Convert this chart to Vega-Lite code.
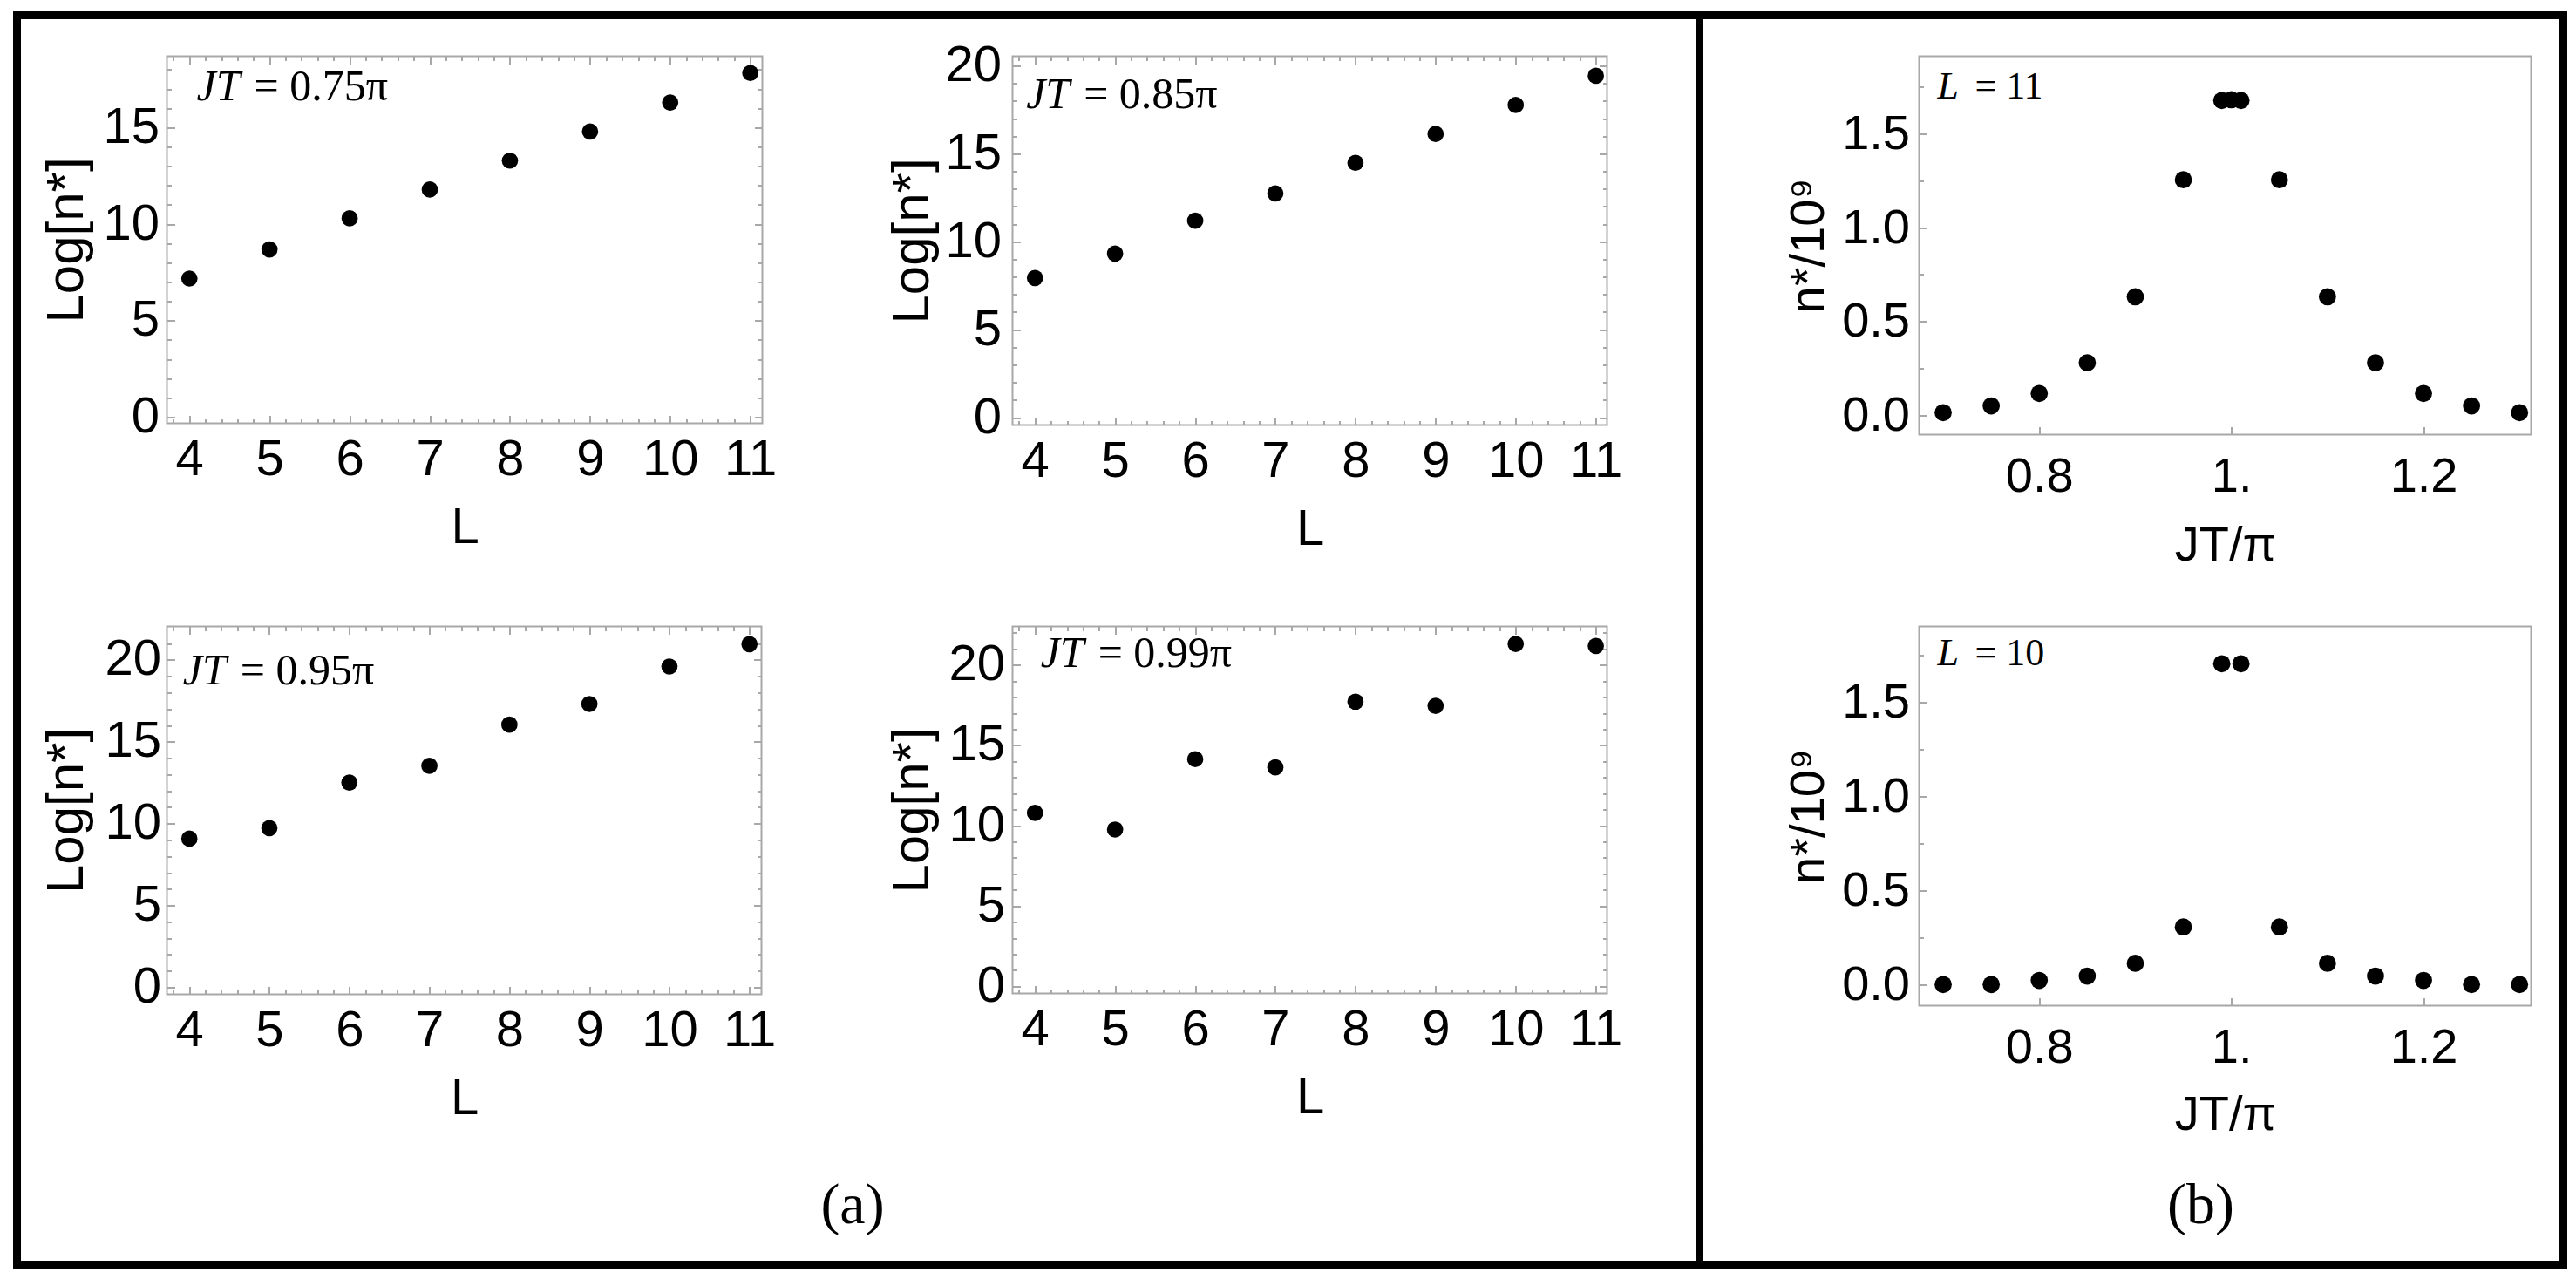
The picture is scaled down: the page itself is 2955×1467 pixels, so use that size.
{
"$schema":"https://vega.github.io/schema/vega-lite/v6.json",
"background":"white",
"padding":{"left":14.5,"top":12.5,"right":12,"bottom":12},
"columns":11,"align":"each","bounds":"flush","spacing":0,
"config":{
 "view":{"stroke":null},
 "concat":{"spacing":0},
 "axis":{"grid":false,"domain":false,"tickColor":"#a8a8a8","tickWidth":2,"labelFont":"Liberation Sans Narrow, Liberation Sans","labelColor":"black","titleFont":"Liberation Sans Narrow, Liberation Sans","titleColor":"black","titleFontWeight":"normal","labelFlush":false,"labelOverlap":false}
},
"concat":[
{"width":0.01,"height":0.01,"view":{"stroke":"black","strokeWidth":9},"data":{"values":[]},"mark":"point"},
{"width":171,"height":0.01,"view":{"stroke":"black","strokeWidth":9},"data":{"values":[]},"mark":"point"},
{"width":683,"height":0.01,"view":{"stroke":"black","strokeWidth":9},"data":{"values":[]},"mark":"point"},
{"width":287,"height":0.01,"view":{"stroke":"black","strokeWidth":9},"data":{"values":[]},"mark":"point"},
{"width":682,"height":0.01,"view":{"stroke":"black","strokeWidth":9},"data":{"values":[]},"mark":"point"},
{"width":106,"height":0.01,"view":{"stroke":"black","strokeWidth":9},"data":{"values":[]},"mark":"point"},
{"width":0.01,"height":0.01,"view":{"stroke":"black","strokeWidth":9},"data":{"values":[]},"mark":"point"},
{"width":251,"height":0.01,"view":{"stroke":"black","strokeWidth":9},"data":{"values":[]},"mark":"point"},
{"width":702,"height":0.01,"view":{"stroke":"black","strokeWidth":9},"data":{"values":[]},"mark":"point"},
{"width":37,"height":0.01,"view":{"stroke":"black","strokeWidth":9},"data":{"values":[]},"mark":"point"},
{"width":0.01,"height":0.01,"view":{"stroke":"black","strokeWidth":9},"data":{"values":[]},"mark":"point"},

{"width":0.01,"height":46,"view":{"stroke":"black","strokeWidth":9},"data":{"values":[]},"mark":"point"},
{"width":0.01,"height":0.01,"data":{"values":[]},"mark":"point"},
{"width":0.01,"height":0.01,"data":{"values":[]},"mark":"point"},
{"width":0.01,"height":0.01,"data":{"values":[]},"mark":"point"},
{"width":0.01,"height":0.01,"data":{"values":[]},"mark":"point"},
{"width":0.01,"height":0.01,"data":{"values":[]},"mark":"point"},
{"width":0.01,"height":46,"view":{"stroke":"black","strokeWidth":9},"data":{"values":[]},"mark":"point"},
{"width":0.01,"height":0.01,"data":{"values":[]},"mark":"point"},
{"width":0.01,"height":0.01,"data":{"values":[]},"mark":"point"},
{"width":0.01,"height":0.01,"data":{"values":[]},"mark":"point"},
{"width":0.01,"height":46,"view":{"stroke":"black","strokeWidth":9},"data":{"values":[]},"mark":"point"},

{"width":0.01,"height":434,"view":{"stroke":"black","strokeWidth":9},"data":{"values":[]},"mark":"point"},
{"width":0.01,"height":0.01,"data":{"values":[]},"mark":"point"},
{"width":683,"height":421,"view":{"stroke":"#a8a8a8","strokeWidth":2},
 "data":{"values":[{"L":4,"v":7.18},{"L":5,"v":8.69},{"L":6,"v":10.3},{"L":7,"v":11.79},{"L":8,"v":13.29},{"L":9,"v":14.8},{"L":10,"v":16.3},{"L":11,"v":17.83}]},
 "resolve":{"axis":{"x":"independent","y":"independent"}},
 "layer":[
  {"mark":{"type":"point","filled":true,"color":"black","opacity":1,"size":350},
   "encoding":{
    "x":{"field":"L","type":"quantitative","scale":{"domain":[3.72,11.15],"nice":false,"zero":false},"axis":{"orient":"bottom","values":[4,5,6,7,8,9,10,11],"format":"d","tickSize":-9,"labelPadding":22,"labelFontSize":58,"title":"L","titleFontSize":58,"titlePadding":31,"minExtent":60,"maxExtent":60}},
    "y":{"field":"v","type":"quantitative","scale":{"domain":[-0.32,18.7],"nice":false,"zero":false},"axis":{"orient":"left","values":[0,5,10,15],"format":"d","tickSize":-9,"labelPadding":18,"labelFontSize":58,"title":"Log[n*]","titleFontSize":60,"titlePadding":14,"minExtent":70,"maxExtent":70}}}},
  {"mark":{"type":"point","opacity":0},
   "encoding":{
    "x":{"field":"L","type":"quantitative","scale":{"domain":[3.72,11.15],"nice":false,"zero":false},"axis":{"orient":"bottom","values":[3.8,4.2,4.4,4.6,4.8,5.2,5.4,5.6,5.8,6.2,6.4,6.6,6.8,7.2,7.4,7.6,7.8,8.2,8.4,8.6,8.8,9.2,9.4,9.6,9.8,10.2,10.4,10.6,10.8],"tickSize":-5,"labels":false,"title":null}},
    "y":{"field":"v","type":"quantitative","scale":{"domain":[-0.32,18.7],"nice":false,"zero":false},"axis":{"orient":"left","values":[1,2,3,4,6,7,8,9,11,12,13,14,16,17,18],"tickSize":-5,"labels":false,"title":null}}}},
  {"mark":{"type":"point","opacity":0},
   "encoding":{
    "x":{"field":"L","type":"quantitative","scale":{"domain":[3.72,11.15],"nice":false,"zero":false},"axis":{"orient":"top","values":[4,5,6,7,8,9,10,11],"tickSize":-9,"labels":false,"title":null}},
    "y":{"field":"v","type":"quantitative","scale":{"domain":[-0.32,18.7],"nice":false,"zero":false},"axis":{"orient":"right","values":[0,5,10,15],"tickSize":-9,"labels":false,"title":null}}}},
  {"mark":{"type":"point","opacity":0},
   "encoding":{
    "x":{"field":"L","type":"quantitative","scale":{"domain":[3.72,11.15],"nice":false,"zero":false},"axis":{"orient":"top","values":[3.8,4.2,4.4,4.6,4.8,5.2,5.4,5.6,5.8,6.2,6.4,6.6,6.8,7.2,7.4,7.6,7.8,8.2,8.4,8.6,8.8,9.2,9.4,9.6,9.8,10.2,10.4,10.6,10.8],"tickSize":-5,"labels":false,"title":null}},
    "y":{"field":"v","type":"quantitative","scale":{"domain":[-0.32,18.7],"nice":false,"zero":false},"axis":{"orient":"right","values":[1,2,3,4,6,7,8,9,11,12,13,14,16,17,18],"tickSize":-5,"labels":false,"title":null}}}},
  {"data":{"values":[{"t":"JT"}]},"mark":{"type":"text","font":"Liberation Serif","fontStyle":"italic","fontSize":50,"align":"left","baseline":"alphabetic","color":"black"},
   "encoding":{"x":{"datum":4.09,"type":"quantitative","scale":{"domain":[3.72,11.15],"nice":false,"zero":false},"axis":null},"y":{"datum":16.4,"type":"quantitative","scale":{"domain":[-0.32,18.7],"nice":false,"zero":false},"axis":null},"text":{"field":"t"}}},
  {"data":{"values":[{"t":"= 0.75π"}]},"mark":{"type":"text","font":"Liberation Serif","fontSize":50,"align":"left","baseline":"alphabetic","color":"black","dx":66},
   "encoding":{"x":{"datum":4.09,"type":"quantitative","scale":{"domain":[3.72,11.15],"nice":false,"zero":false},"axis":null},"y":{"datum":16.4,"type":"quantitative","scale":{"domain":[-0.32,18.7],"nice":false,"zero":false},"axis":null},"text":{"field":"t"}}}
 ]},
{"width":0.01,"height":0.01,"data":{"values":[]},"mark":"point"},
{"width":682,"height":423,"view":{"stroke":"#a8a8a8","strokeWidth":2},
 "data":{"values":[{"L":4,"v":7.94},{"L":5,"v":9.33},{"L":6,"v":11.2},{"L":7,"v":12.75},{"L":8,"v":14.49},{"L":9,"v":16.13},{"L":10,"v":17.78},{"L":11,"v":19.44}]},
 "resolve":{"axis":{"x":"independent","y":"independent"}},
 "layer":[
  {"mark":{"type":"point","filled":true,"color":"black","opacity":1,"size":350},
   "encoding":{
    "x":{"field":"L","type":"quantitative","scale":{"domain":[3.72,11.14],"nice":false,"zero":false},"axis":{"orient":"bottom","values":[4,5,6,7,8,9,10,11],"format":"d","tickSize":-9,"labelPadding":22,"labelFontSize":58,"title":"L","titleFontSize":58,"titlePadding":31,"minExtent":60,"maxExtent":60}},
    "y":{"field":"v","type":"quantitative","scale":{"domain":[-0.42,20.55],"nice":false,"zero":false},"axis":{"orient":"left","values":[0,5,10,15,20],"format":"d","tickSize":-9,"labelPadding":22,"labelFontSize":58,"title":"Log[n*]","titleFontSize":60,"titlePadding":14,"minExtent":70,"maxExtent":70}}}},
  {"mark":{"type":"point","opacity":0},
   "encoding":{
    "x":{"field":"L","type":"quantitative","scale":{"domain":[3.72,11.14],"nice":false,"zero":false},"axis":{"orient":"bottom","values":[3.8,4.2,4.4,4.6,4.8,5.2,5.4,5.6,5.8,6.2,6.4,6.6,6.8,7.2,7.4,7.6,7.8,8.2,8.4,8.6,8.8,9.2,9.4,9.6,9.8,10.2,10.4,10.6,10.8],"tickSize":-5,"labels":false,"title":null}},
    "y":{"field":"v","type":"quantitative","scale":{"domain":[-0.42,20.55],"nice":false,"zero":false},"axis":{"orient":"left","values":[1,2,3,4,6,7,8,9,11,12,13,14,16,17,18,19],"tickSize":-5,"labels":false,"title":null}}}},
  {"mark":{"type":"point","opacity":0},
   "encoding":{
    "x":{"field":"L","type":"quantitative","scale":{"domain":[3.72,11.14],"nice":false,"zero":false},"axis":{"orient":"top","values":[4,5,6,7,8,9,10,11],"tickSize":-9,"labels":false,"title":null}},
    "y":{"field":"v","type":"quantitative","scale":{"domain":[-0.42,20.55],"nice":false,"zero":false},"axis":{"orient":"right","values":[0,5,10,15,20],"tickSize":-9,"labels":false,"title":null}}}},
  {"mark":{"type":"point","opacity":0},
   "encoding":{
    "x":{"field":"L","type":"quantitative","scale":{"domain":[3.72,11.14],"nice":false,"zero":false},"axis":{"orient":"top","values":[3.8,4.2,4.4,4.6,4.8,5.2,5.4,5.6,5.8,6.2,6.4,6.6,6.8,7.2,7.4,7.6,7.8,8.2,8.4,8.6,8.8,9.2,9.4,9.6,9.8,10.2,10.4,10.6,10.8],"tickSize":-5,"labels":false,"title":null}},
    "y":{"field":"v","type":"quantitative","scale":{"domain":[-0.42,20.55],"nice":false,"zero":false},"axis":{"orient":"right","values":[1,2,3,4,6,7,8,9,11,12,13,14,16,17,18,19],"tickSize":-5,"labels":false,"title":null}}}},
  {"data":{"values":[{"t":"JT"}]},"mark":{"type":"text","font":"Liberation Serif","fontStyle":"italic","fontSize":50,"align":"left","baseline":"alphabetic","color":"black"},
   "encoding":{"x":{"datum":3.89,"type":"quantitative","scale":{"domain":[3.72,11.14],"nice":false,"zero":false},"axis":null},"y":{"datum":17.6,"type":"quantitative","scale":{"domain":[-0.42,20.55],"nice":false,"zero":false},"axis":null},"text":{"field":"t"}}},
  {"data":{"values":[{"t":"= 0.85π"}]},"mark":{"type":"text","font":"Liberation Serif","fontSize":50,"align":"left","baseline":"alphabetic","color":"black","dx":66},
   "encoding":{"x":{"datum":3.89,"type":"quantitative","scale":{"domain":[3.72,11.14],"nice":false,"zero":false},"axis":null},"y":{"datum":17.6,"type":"quantitative","scale":{"domain":[-0.42,20.55],"nice":false,"zero":false},"axis":null},"text":{"field":"t"}}}
 ]},
{"width":0.01,"height":0.01,"data":{"values":[]},"mark":"point"},
{"width":0.01,"height":434,"view":{"stroke":"black","strokeWidth":9},"data":{"values":[]},"mark":"point"},
{"width":0.01,"height":0.01,"data":{"values":[]},"mark":"point"},
{"width":702,"height":434,"view":{"stroke":"#a8a8a8","strokeWidth":2},
 "data":{"values":[{"jt":0.7,"n":0.015},{"jt":0.75,"n":0.051},{"jt":0.8,"n":0.117},{"jt":0.85,"n":0.281},{"jt":0.9,"n":0.632},{"jt":0.95,"n":1.255},{"jt":0.99,"n":1.677},{"jt":1.0,"n":1.681},{"jt":1.01,"n":1.677},{"jt":1.05,"n":1.255},{"jt":1.1,"n":0.632},{"jt":1.15,"n":0.281},{"jt":1.2,"n":0.117},{"jt":1.25,"n":0.051},{"jt":1.3,"n":0.015}]},
 "resolve":{"axis":{"x":"independent","y":"independent"}},
 "layer":[
  {"mark":{"type":"point","filled":true,"color":"black","opacity":1,"size":390},
   "encoding":{
    "x":{"field":"jt","type":"quantitative","scale":{"domain":[0.675,1.312],"nice":false,"zero":false},"axis":{"orient":"bottom","values":[0.8,1,1.2],"labelExpr":"datum.value == 1 ? '1.' : format(datum.value, '.1f')","tickSize":-9,"labelPadding":30,"labelFontSize":56,"title":"JT/π","titleFontSize":56,"titlePadding":30,"minExtent":70,"maxExtent":70}},
    "y":{"field":"n","type":"quantitative","scale":{"domain":[-0.102,1.913],"nice":false,"zero":false},"axis":{"orient":"left","values":[0,0.5,1,1.5],"format":".1f","tickSize":-9,"labelPadding":20,"labelFontSize":56,"title":"n*/10⁹","titleFontSize":56,"titlePadding":10,"minExtent":88,"maxExtent":88}}}},
  {"mark":{"type":"point","opacity":0},
   "encoding":{
    "x":{"field":"jt","type":"quantitative","scale":{"domain":[0.675,1.312],"nice":false,"zero":false},"axis":null},
    "y":{"field":"n","type":"quantitative","scale":{"domain":[-0.102,1.913],"nice":false,"zero":false},"axis":{"orient":"left","values":[0.25,0.75,1.25,1.75],"tickSize":-5,"labels":false,"title":null}}}},
  {"data":{"values":[{"t":"L"}]},"mark":{"type":"text","font":"Liberation Serif","fontStyle":"italic","fontSize":44,"align":"left","baseline":"alphabetic","color":"black"},
   "encoding":{"x":{"datum":0.694,"type":"quantitative","scale":{"domain":[0.675,1.312],"nice":false,"zero":false},"axis":null},"y":{"datum":1.686,"type":"quantitative","scale":{"domain":[-0.102,1.913],"nice":false,"zero":false},"axis":null},"text":{"field":"t"}}},
  {"data":{"values":[{"t":"= 11"}]},"mark":{"type":"text","font":"Liberation Serif","fontSize":44,"align":"left","baseline":"alphabetic","color":"black","dx":43},
   "encoding":{"x":{"datum":0.694,"type":"quantitative","scale":{"domain":[0.675,1.312],"nice":false,"zero":false},"axis":null},"y":{"datum":1.686,"type":"quantitative","scale":{"domain":[-0.102,1.913],"nice":false,"zero":false},"axis":null},"text":{"field":"t"}}}
 ]},
{"width":0.01,"height":0.01,"data":{"values":[]},"mark":"point"},
{"width":0.01,"height":434,"view":{"stroke":"black","strokeWidth":9},"data":{"values":[]},"mark":"point"},

{"width":0.01,"height":220,"view":{"stroke":"black","strokeWidth":9},"data":{"values":[]},"mark":"point"},
{"width":0.01,"height":0.01,"data":{"values":[]},"mark":"point"},
{"width":0.01,"height":0.01,"data":{"values":[]},"mark":"point"},
{"width":0.01,"height":0.01,"data":{"values":[]},"mark":"point"},
{"width":0.01,"height":0.01,"data":{"values":[]},"mark":"point"},
{"width":0.01,"height":0.01,"data":{"values":[]},"mark":"point"},
{"width":0.01,"height":220,"view":{"stroke":"black","strokeWidth":9},"data":{"values":[]},"mark":"point"},
{"width":0.01,"height":0.01,"data":{"values":[]},"mark":"point"},
{"width":0.01,"height":0.01,"data":{"values":[]},"mark":"point"},
{"width":0.01,"height":0.01,"data":{"values":[]},"mark":"point"},
{"width":0.01,"height":220,"view":{"stroke":"black","strokeWidth":9},"data":{"values":[]},"mark":"point"},

{"width":0.01,"height":435,"view":{"stroke":"black","strokeWidth":9},"data":{"values":[]},"mark":"point"},
{"width":0.01,"height":0.01,"data":{"values":[]},"mark":"point"},
{"width":682,"height":422,"view":{"stroke":"#a8a8a8","strokeWidth":2},
 "data":{"values":[{"L":4,"v":9.08},{"L":5,"v":9.73},{"L":6,"v":12.51},{"L":7,"v":13.53},{"L":8,"v":16.05},{"L":9,"v":17.31},{"L":10,"v":19.6},{"L":11,"v":20.97}]},
 "resolve":{"axis":{"x":"independent","y":"independent"}},
 "layer":[
  {"mark":{"type":"point","filled":true,"color":"black","opacity":1,"size":350},
   "encoding":{
    "x":{"field":"L","type":"quantitative","scale":{"domain":[3.72,11.15],"nice":false,"zero":false},"axis":{"orient":"bottom","values":[4,5,6,7,8,9,10,11],"format":"d","tickSize":-9,"labelPadding":22,"labelFontSize":58,"title":"L","titleFontSize":58,"titlePadding":31,"minExtent":60,"maxExtent":60}},
    "y":{"field":"v","type":"quantitative","scale":{"domain":[-0.43,22.05],"nice":false,"zero":false},"axis":{"orient":"left","values":[0,5,10,15,20],"format":"d","tickSize":-9,"labelPadding":16,"labelFontSize":58,"title":"Log[n*]","titleFontSize":60,"titlePadding":14,"minExtent":70,"maxExtent":70}}}},
  {"mark":{"type":"point","opacity":0},
   "encoding":{
    "x":{"field":"L","type":"quantitative","scale":{"domain":[3.72,11.15],"nice":false,"zero":false},"axis":{"orient":"bottom","values":[3.8,4.2,4.4,4.6,4.8,5.2,5.4,5.6,5.8,6.2,6.4,6.6,6.8,7.2,7.4,7.6,7.8,8.2,8.4,8.6,8.8,9.2,9.4,9.6,9.8,10.2,10.4,10.6,10.8],"tickSize":-5,"labels":false,"title":null}},
    "y":{"field":"v","type":"quantitative","scale":{"domain":[-0.43,22.05],"nice":false,"zero":false},"axis":{"orient":"left","values":[1,2,3,4,6,7,8,9,11,12,13,14,16,17,18,19,21],"tickSize":-5,"labels":false,"title":null}}}},
  {"mark":{"type":"point","opacity":0},
   "encoding":{
    "x":{"field":"L","type":"quantitative","scale":{"domain":[3.72,11.15],"nice":false,"zero":false},"axis":{"orient":"top","values":[4,5,6,7,8,9,10,11],"tickSize":-9,"labels":false,"title":null}},
    "y":{"field":"v","type":"quantitative","scale":{"domain":[-0.43,22.05],"nice":false,"zero":false},"axis":{"orient":"right","values":[0,5,10,15,20],"tickSize":-9,"labels":false,"title":null}}}},
  {"mark":{"type":"point","opacity":0},
   "encoding":{
    "x":{"field":"L","type":"quantitative","scale":{"domain":[3.72,11.15],"nice":false,"zero":false},"axis":{"orient":"top","values":[3.8,4.2,4.4,4.6,4.8,5.2,5.4,5.6,5.8,6.2,6.4,6.6,6.8,7.2,7.4,7.6,7.8,8.2,8.4,8.6,8.8,9.2,9.4,9.6,9.8,10.2,10.4,10.6,10.8],"tickSize":-5,"labels":false,"title":null}},
    "y":{"field":"v","type":"quantitative","scale":{"domain":[-0.43,22.05],"nice":false,"zero":false},"axis":{"orient":"right","values":[1,2,3,4,6,7,8,9,11,12,13,14,16,17,18,19,21],"tickSize":-5,"labels":false,"title":null}}}},
  {"data":{"values":[{"t":"JT"}]},"mark":{"type":"text","font":"Liberation Serif","fontStyle":"italic","fontSize":50,"align":"left","baseline":"alphabetic","color":"black"},
   "encoding":{"x":{"datum":3.92,"type":"quantitative","scale":{"domain":[3.72,11.15],"nice":false,"zero":false},"axis":null},"y":{"datum":18.5,"type":"quantitative","scale":{"domain":[-0.43,22.05],"nice":false,"zero":false},"axis":null},"text":{"field":"t"}}},
  {"data":{"values":[{"t":"= 0.95π"}]},"mark":{"type":"text","font":"Liberation Serif","fontSize":50,"align":"left","baseline":"alphabetic","color":"black","dx":66},
   "encoding":{"x":{"datum":3.92,"type":"quantitative","scale":{"domain":[3.72,11.15],"nice":false,"zero":false},"axis":null},"y":{"datum":18.5,"type":"quantitative","scale":{"domain":[-0.43,22.05],"nice":false,"zero":false},"axis":null},"text":{"field":"t"}}}
 ]},
{"width":0.01,"height":0.01,"data":{"values":[]},"mark":"point"},
{"width":682,"height":421,"view":{"stroke":"#a8a8a8","strokeWidth":2},
 "data":{"values":[{"L":4,"v":10.8},{"L":5,"v":9.76},{"L":6,"v":14.14},{"L":7,"v":13.63},{"L":8,"v":17.72},{"L":9,"v":17.46},{"L":10,"v":21.31},{"L":11,"v":21.19}]},
 "resolve":{"axis":{"x":"independent","y":"independent"}},
 "layer":[
  {"mark":{"type":"point","filled":true,"color":"black","opacity":1,"size":350},
   "encoding":{
    "x":{"field":"L","type":"quantitative","scale":{"domain":[3.72,11.14],"nice":false,"zero":false},"axis":{"orient":"bottom","values":[4,5,6,7,8,9,10,11],"format":"d","tickSize":-9,"labelPadding":22,"labelFontSize":58,"title":"L","titleFontSize":58,"titlePadding":31,"minExtent":60,"maxExtent":60}},
    "y":{"field":"v","type":"quantitative","scale":{"domain":[-0.44,22.4],"nice":false,"zero":false},"axis":{"orient":"left","values":[0,5,10,15,20],"format":"d","tickSize":-9,"labelPadding":18,"labelFontSize":58,"title":"Log[n*]","titleFontSize":60,"titlePadding":14,"minExtent":70,"maxExtent":70}}}},
  {"mark":{"type":"point","opacity":0},
   "encoding":{
    "x":{"field":"L","type":"quantitative","scale":{"domain":[3.72,11.14],"nice":false,"zero":false},"axis":{"orient":"bottom","values":[3.8,4.2,4.4,4.6,4.8,5.2,5.4,5.6,5.8,6.2,6.4,6.6,6.8,7.2,7.4,7.6,7.8,8.2,8.4,8.6,8.8,9.2,9.4,9.6,9.8,10.2,10.4,10.6,10.8],"tickSize":-5,"labels":false,"title":null}},
    "y":{"field":"v","type":"quantitative","scale":{"domain":[-0.44,22.4],"nice":false,"zero":false},"axis":{"orient":"left","values":[1,2,3,4,6,7,8,9,11,12,13,14,16,17,18,19,21,22],"tickSize":-5,"labels":false,"title":null}}}},
  {"mark":{"type":"point","opacity":0},
   "encoding":{
    "x":{"field":"L","type":"quantitative","scale":{"domain":[3.72,11.14],"nice":false,"zero":false},"axis":{"orient":"top","values":[4,5,6,7,8,9,10,11],"tickSize":-9,"labels":false,"title":null}},
    "y":{"field":"v","type":"quantitative","scale":{"domain":[-0.44,22.4],"nice":false,"zero":false},"axis":{"orient":"right","values":[0,5,10,15,20],"tickSize":-9,"labels":false,"title":null}}}},
  {"mark":{"type":"point","opacity":0},
   "encoding":{
    "x":{"field":"L","type":"quantitative","scale":{"domain":[3.72,11.14],"nice":false,"zero":false},"axis":{"orient":"top","values":[3.8,4.2,4.4,4.6,4.8,5.2,5.4,5.6,5.8,6.2,6.4,6.6,6.8,7.2,7.4,7.6,7.8,8.2,8.4,8.6,8.8,9.2,9.4,9.6,9.8,10.2,10.4,10.6,10.8],"tickSize":-5,"labels":false,"title":null}},
    "y":{"field":"v","type":"quantitative","scale":{"domain":[-0.44,22.4],"nice":false,"zero":false},"axis":{"orient":"right","values":[1,2,3,4,6,7,8,9,11,12,13,14,16,17,18,19,21,22],"tickSize":-5,"labels":false,"title":null}}}},
  {"data":{"values":[{"t":"JT"}]},"mark":{"type":"text","font":"Liberation Serif","fontStyle":"italic","fontSize":50,"align":"left","baseline":"alphabetic","color":"black"},
   "encoding":{"x":{"datum":4.07,"type":"quantitative","scale":{"domain":[3.72,11.14],"nice":false,"zero":false},"axis":null},"y":{"datum":19.9,"type":"quantitative","scale":{"domain":[-0.44,22.4],"nice":false,"zero":false},"axis":null},"text":{"field":"t"}}},
  {"data":{"values":[{"t":"= 0.99π"}]},"mark":{"type":"text","font":"Liberation Serif","fontSize":50,"align":"left","baseline":"alphabetic","color":"black","dx":66},
   "encoding":{"x":{"datum":4.07,"type":"quantitative","scale":{"domain":[3.72,11.14],"nice":false,"zero":false},"axis":null},"y":{"datum":19.9,"type":"quantitative","scale":{"domain":[-0.44,22.4],"nice":false,"zero":false},"axis":null},"text":{"field":"t"}}}
 ]},
{"width":0.01,"height":0.01,"data":{"values":[]},"mark":"point"},
{"width":0.01,"height":435,"view":{"stroke":"black","strokeWidth":9},"data":{"values":[]},"mark":"point"},
{"width":0.01,"height":0.01,"data":{"values":[]},"mark":"point"},
{"width":702,"height":435,"view":{"stroke":"#a8a8a8","strokeWidth":2},
 "data":{"values":[{"jt":0.7,"n":0.003},{"jt":0.75,"n":0.003},{"jt":0.8,"n":0.025},{"jt":0.85,"n":0.048},{"jt":0.9,"n":0.116},{"jt":0.95,"n":0.309},{"jt":0.99,"n":1.707},{"jt":1.01,"n":1.707},{"jt":1.05,"n":0.309},{"jt":1.1,"n":0.116},{"jt":1.15,"n":0.048},{"jt":1.2,"n":0.025},{"jt":1.25,"n":0.003},{"jt":1.3,"n":0.003}]},
 "resolve":{"axis":{"x":"independent","y":"independent"}},
 "layer":[
  {"mark":{"type":"point","filled":true,"color":"black","opacity":1,"size":390},
   "encoding":{
    "x":{"field":"jt","type":"quantitative","scale":{"domain":[0.675,1.312],"nice":false,"zero":false},"axis":{"orient":"bottom","values":[0.8,1,1.2],"labelExpr":"datum.value == 1 ? '1.' : format(datum.value, '.1f')","tickSize":-9,"labelPadding":30,"labelFontSize":56,"title":"JT/π","titleFontSize":56,"titlePadding":28,"minExtent":70,"maxExtent":70}},
    "y":{"field":"n","type":"quantitative","scale":{"domain":[-0.109,1.905],"nice":false,"zero":false},"axis":{"orient":"left","values":[0,0.5,1,1.5],"format":".1f","tickSize":-9,"labelPadding":20,"labelFontSize":56,"title":"n*/10⁹","titleFontSize":56,"titlePadding":10,"minExtent":88,"maxExtent":88}}}},
  {"mark":{"type":"point","opacity":0},
   "encoding":{
    "x":{"field":"jt","type":"quantitative","scale":{"domain":[0.675,1.312],"nice":false,"zero":false},"axis":null},
    "y":{"field":"n","type":"quantitative","scale":{"domain":[-0.109,1.905],"nice":false,"zero":false},"axis":{"orient":"left","values":[0.25,0.75,1.25,1.75],"tickSize":-5,"labels":false,"title":null}}}},
  {"data":{"values":[{"t":"L"}]},"mark":{"type":"text","font":"Liberation Serif","fontStyle":"italic","fontSize":44,"align":"left","baseline":"alphabetic","color":"black"},
   "encoding":{"x":{"datum":0.694,"type":"quantitative","scale":{"domain":[0.675,1.312],"nice":false,"zero":false},"axis":null},"y":{"datum":1.7,"type":"quantitative","scale":{"domain":[-0.109,1.905],"nice":false,"zero":false},"axis":null},"text":{"field":"t"}}},
  {"data":{"values":[{"t":"= 10"}]},"mark":{"type":"text","font":"Liberation Serif","fontSize":44,"align":"left","baseline":"alphabetic","color":"black","dx":43},
   "encoding":{"x":{"datum":0.694,"type":"quantitative","scale":{"domain":[0.675,1.312],"nice":false,"zero":false},"axis":null},"y":{"datum":1.7,"type":"quantitative","scale":{"domain":[-0.109,1.905],"nice":false,"zero":false},"axis":null},"text":{"field":"t"}}}
 ]},
{"width":0.01,"height":0.01,"data":{"values":[]},"mark":"point"},
{"width":0.01,"height":435,"view":{"stroke":"black","strokeWidth":9},"data":{"values":[]},"mark":"point"},

{"width":0.01,"height":165,"view":{"stroke":"black","strokeWidth":9},"data":{"values":[]},"mark":"point"},
{"width":0.01,"height":0.01,"data":{"values":[]},"mark":"point"},
{"width":0.01,"height":0.01,"data":{"values":[]},"mark":"point"},
{"width":0.01,"height":0.01,"data":{"values":[]},"mark":"point"},
{"width":0.01,"height":0.01,"data":{"values":[]},"mark":"point"},
{"width":0.01,"height":0.01,"data":{"values":[]},"mark":"point"},
{"width":0.01,"height":165,"view":{"stroke":"black","strokeWidth":9},"data":{"values":[]},"mark":"point"},
{"width":0.01,"height":0.01,"data":{"values":[]},"mark":"point"},
{"width":0.01,"height":0.01,"data":{"values":[]},"mark":"point"},
{"width":0.01,"height":0.01,"data":{"values":[]},"mark":"point"},
{"width":0.01,"height":165,"view":{"stroke":"black","strokeWidth":9},"data":{"values":[]},"mark":"point"},

{"width":0.01,"height":128,"view":{"stroke":"black","strokeWidth":9},"data":{"values":[]},"mark":"point"},
{"width":0.01,"height":0.01,"data":{"values":[]},"mark":"point"},
{"width":0.01,"height":0.01,"data":{"values":[]},"mark":"point"},
{"width":287,"height":128,"data":{"values":[{"label":"(a)"}]},"mark":{"type":"text","font":"Liberation Serif","fontSize":66,"baseline":"middle","align":"center","color":"black","dx":-40},"encoding":{"text":{"field":"label"}}},
{"width":0.01,"height":0.01,"data":{"values":[]},"mark":"point"},
{"width":0.01,"height":0.01,"data":{"values":[]},"mark":"point"},
{"width":0.01,"height":128,"view":{"stroke":"black","strokeWidth":9},"data":{"values":[]},"mark":"point"},
{"width":0.01,"height":0.01,"data":{"values":[]},"mark":"point"},
{"width":702,"height":128,"data":{"values":[{"label":"(b)"}]},"mark":{"type":"text","font":"Liberation Serif","fontSize":66,"baseline":"middle","align":"center","color":"black","dx":-28},"encoding":{"text":{"field":"label"}}},
{"width":0.01,"height":0.01,"data":{"values":[]},"mark":"point"},
{"width":0.01,"height":128,"view":{"stroke":"black","strokeWidth":9},"data":{"values":[]},"mark":"point"},

{"width":0.01,"height":4,"view":{"stroke":"black","strokeWidth":9},"data":{"values":[]},"mark":"point"},
{"width":0.01,"height":0.01,"data":{"values":[]},"mark":"point"},
{"width":0.01,"height":0.01,"data":{"values":[]},"mark":"point"},
{"width":0.01,"height":0.01,"data":{"values":[]},"mark":"point"},
{"width":0.01,"height":0.01,"data":{"values":[]},"mark":"point"},
{"width":0.01,"height":0.01,"data":{"values":[]},"mark":"point"},
{"width":0.01,"height":4,"view":{"stroke":"black","strokeWidth":9},"data":{"values":[]},"mark":"point"},
{"width":0.01,"height":0.01,"data":{"values":[]},"mark":"point"},
{"width":0.01,"height":0.01,"data":{"values":[]},"mark":"point"},
{"width":0.01,"height":0.01,"data":{"values":[]},"mark":"point"},
{"width":0.01,"height":4,"view":{"stroke":"black","strokeWidth":9},"data":{"values":[]},"mark":"point"},

{"width":0.01,"height":0.01,"view":{"stroke":"black","strokeWidth":9},"data":{"values":[]},"mark":"point"},
{"width":171,"height":0.01,"view":{"stroke":"black","strokeWidth":9},"data":{"values":[]},"mark":"point"},
{"width":683,"height":0.01,"view":{"stroke":"black","strokeWidth":9},"data":{"values":[]},"mark":"point"},
{"width":287,"height":0.01,"view":{"stroke":"black","strokeWidth":9},"data":{"values":[]},"mark":"point"},
{"width":682,"height":0.01,"view":{"stroke":"black","strokeWidth":9},"data":{"values":[]},"mark":"point"},
{"width":106,"height":0.01,"view":{"stroke":"black","strokeWidth":9},"data":{"values":[]},"mark":"point"},
{"width":0.01,"height":0.01,"view":{"stroke":"black","strokeWidth":9},"data":{"values":[]},"mark":"point"},
{"width":251,"height":0.01,"view":{"stroke":"black","strokeWidth":9},"data":{"values":[]},"mark":"point"},
{"width":702,"height":0.01,"view":{"stroke":"black","strokeWidth":9},"data":{"values":[]},"mark":"point"},
{"width":37,"height":0.01,"view":{"stroke":"black","strokeWidth":9},"data":{"values":[]},"mark":"point"},
{"width":0.01,"height":0.01,"view":{"stroke":"black","strokeWidth":9},"data":{"values":[]},"mark":"point"}
]
}
